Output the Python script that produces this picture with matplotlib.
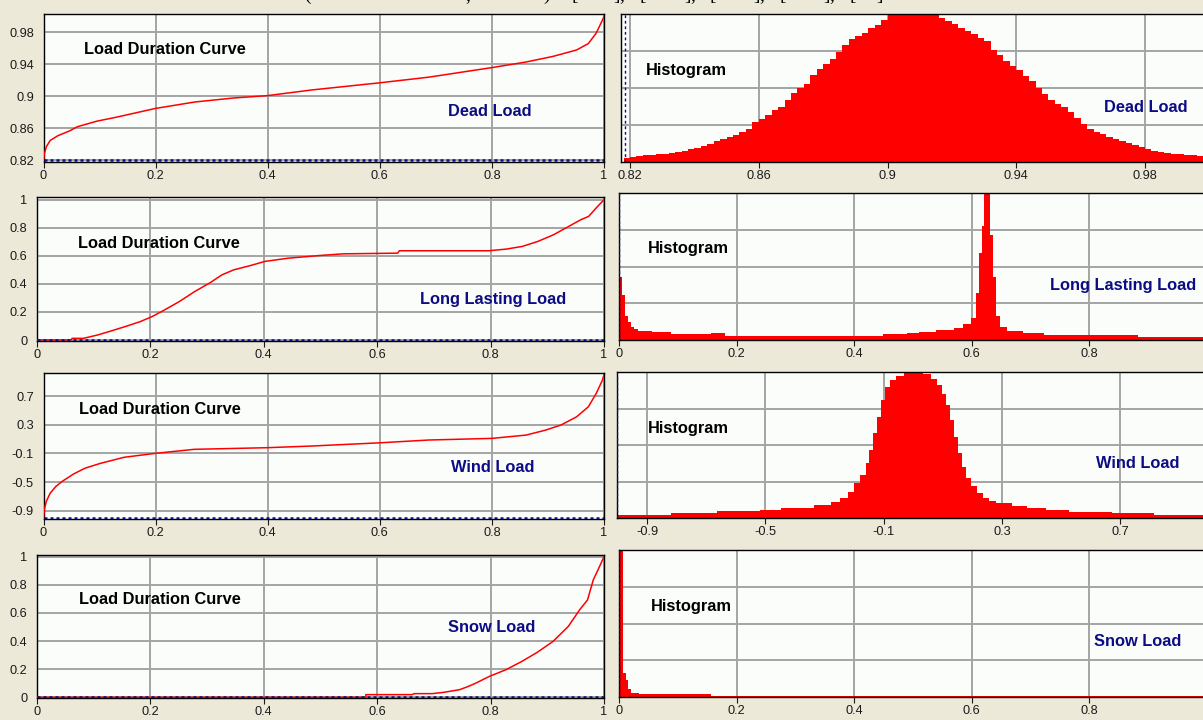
import numpy as np
import matplotlib.pyplot as plt

plt.rcParams['font.family'] = ['Liberation Sans', 'DejaVu Sans']

W, H = 1203, 720

# ---- load duration curves (fraction of time, load) ----
dead_frac = [0, 0.0014, 0.005, 0.012, 0.026, 0.047, 0.06, 0.095, 0.13, 0.2, 0.27, 0.339,
             0.4, 0.478, 0.6, 0.687, 0.8, 0.861, 0.909, 0.951, 0.972, 0.986, 0.997, 1.0]
dead_load = [0.82, 0.828, 0.837, 0.845, 0.851, 0.857, 0.862, 0.869, 0.874, 0.885, 0.893, 0.898,
             0.901, 0.908, 0.917, 0.924, 0.936, 0.943, 0.950, 0.958, 0.966, 0.979, 0.995, 1.0]

long_frac = [0, 0.06, 0.062, 0.082, 0.107, 0.127, 0.155, 0.182, 0.203, 0.223, 0.251, 0.278,
             0.306, 0.326, 0.347, 0.375, 0.402, 0.443, 0.498, 0.54, 0.636, 0.639, 0.797,
             0.828, 0.856, 0.883, 0.911, 0.938, 0.959, 0.973, 0.986, 1.0]
long_load = [0, 0, 0.012, 0.012, 0.036, 0.06, 0.095, 0.131, 0.167, 0.21, 0.274, 0.345,
             0.41, 0.464, 0.5, 0.529, 0.56, 0.583, 0.602, 0.614, 0.619, 0.636, 0.636,
             0.648, 0.667, 0.702, 0.75, 0.81, 0.857, 0.881, 0.94, 1.0]

wind_frac = [0, 0.0014, 0.005, 0.012, 0.022, 0.033, 0.054, 0.074, 0.102, 0.144, 0.2, 0.269,
             0.4, 0.478, 0.6, 0.687, 0.8, 0.861, 0.896, 0.923, 0.951, 0.972, 0.986, 0.997, 1.0]
wind_load = [-1.0, -0.886, -0.77, -0.654, -0.561, -0.492, -0.385, -0.306, -0.237, -0.153,
             -0.098, -0.042, -0.019, 0.004, 0.049, 0.088, 0.111, 0.157, 0.227, 0.297, 0.412,
             0.552, 0.737, 0.922, 1.0]

snow_frac = [0, 0.58, 0.58, 0.662, 0.665, 0.697, 0.717, 0.745, 0.758, 0.772, 0.798, 0.827,
             0.855, 0.882, 0.91, 0.937, 0.957, 0.971, 0.981, 0.992, 1.0]
snow_load = [0, 0, 0.019, 0.019, 0.026, 0.026, 0.035, 0.054, 0.073, 0.097, 0.149, 0.196,
             0.255, 0.319, 0.397, 0.504, 0.622, 0.693, 0.834, 0.929, 1.0]

# ---- histograms (relative frequency, 1 = top of plot) ----
dead_bin_start = 0.818
dead_bin_width = 0.002
dead_hist = [0.03, 0.035, 0.04, 0.045, 0.05, 0.052, 0.055, 0.06, 0.065, 0.072,
             0.085, 0.095, 0.11, 0.125, 0.14, 0.155, 0.17, 0.185, 0.205, 0.225,
             0.27, 0.29, 0.32, 0.35, 0.375, 0.42, 0.465, 0.5, 0.525, 0.585,
             0.63, 0.66, 0.695, 0.74, 0.79, 0.83, 0.85, 0.875, 0.905, 0.925,
             0.96, 1.0, 1.02, 1.04, 1.05, 1.05, 1.04, 1.03, 1.0, 0.975,
             0.955, 0.93, 0.905, 0.885, 0.865, 0.84, 0.815, 0.76, 0.72, 0.685,
             0.65, 0.62, 0.58, 0.545, 0.5, 0.46, 0.42, 0.395, 0.375, 0.34,
             0.3, 0.26, 0.225, 0.2, 0.19, 0.17, 0.155, 0.145, 0.13, 0.115,
             0.1, 0.085, 0.072, 0.065, 0.06, 0.055, 0.052, 0.048, 0.045, 0.04, 0.038]

long_edges = [0, 0.005, 0.01, 0.015, 0.02, 0.026, 0.033, 0.056, 0.088, 0.157, 0.18, 0.45,
              0.49, 0.51, 0.54, 0.57, 0.586, 0.599, 0.607, 0.612, 0.617, 0.622, 0.632,
              0.636, 0.642, 0.648, 0.661, 0.687, 0.723, 0.884, 1.0]
long_hist = [0.43, 0.307, 0.164, 0.125, 0.09, 0.075, 0.064, 0.057, 0.041, 0.045,
             0.03, 0.039, 0.045, 0.052, 0.068, 0.08, 0.11, 0.148, 0.318, 0.59,
             0.773, 1.05, 0.716, 0.43, 0.16, 0.09, 0.064, 0.045, 0.034, 0.023]

wind_edges = [-1.0, -0.818, -0.662, -0.519, -0.447, -0.337, -0.278, -0.246, -0.22, -0.2,
              -0.18, -0.16, -0.148, -0.135, -0.122, -0.109, -0.096, -0.077, -0.057, -0.031,
              -0.005, 0.034, 0.06, 0.08, 0.099, 0.112, 0.125, 0.138, 0.151, 0.164, 0.177,
              0.196, 0.216, 0.235, 0.255, 0.281, 0.333, 0.385, 0.45, 0.528, 0.671, 0.814, 1.0]
wind_hist = [0.018, 0.034, 0.045, 0.057, 0.068, 0.09, 0.107, 0.136, 0.18, 0.24,
             0.295, 0.375, 0.466, 0.58, 0.693, 0.807, 0.898, 0.943, 0.97, 0.99,
             1.02, 0.984, 0.955, 0.909, 0.852, 0.773, 0.67, 0.557, 0.443, 0.352,
             0.273, 0.216, 0.17, 0.136, 0.114, 0.102, 0.084, 0.068, 0.057, 0.039,
             0.034, 0.023]

snow_edges = [0, 0.0065, 0.011, 0.0157, 0.021, 0.034, 0.157, 1.0]
snow_hist = [1.1, 0.164, 0.114, 0.057, 0.03, 0.018, 0.007]

# ---- ticks / labels ----
unit_ticks = [0, 0.2, 0.4, 0.6, 0.8, 1]
unit_labels = ["0", "0.2", "0.4", "0.6", "0.8", "1"]
dead_ticks = [0.82, 0.86, 0.9, 0.94, 0.98]
dead_labels = ["0.82", "0.86", "0.9", "0.94", "0.98"]
wind_ticks = [-0.9, -0.5, -0.1, 0.3, 0.7]
wind_labels = ["-0.9", "-0.5", "-0.1", "0.3", "0.7"]
load_names = ["Dead Load", "Long Lasting Load", "Wind Load", "Snow Load"]

BG = '#ECE9D8'
FACE = '#FBFDFB'
RED = '#FF0000'
NAVY = '#0C0C84'

fig = plt.figure(figsize=(W / 100, H / 100), dpi=100, facecolor=BG)


def px_axes(x0, y0, x1, y1):
    return fig.add_axes([x0 / W, 1 - y1 / H, (x1 - x0) / W, (y1 - y0) / H])


def px_text(x, y, s, **kw):
    fig.text(x / W, 1 - y / H, s, ha='center', va='center', **kw)


def style(ax, xlim, ylim, xt, xl, yt, yl):
    ax.set_facecolor(FACE)
    ax.set_xlim(*xlim)
    ax.set_ylim(*ylim)
    ax.set_xticks(xt, xl)
    ax.set_yticks(yt, yl)
    ax.grid(True, color='#A4A4A4', lw=1.4)
    ax.set_axisbelow(True)
    ax.tick_params(labelsize=9.2, colors='#1A1A1A')
    ax.tick_params(axis='x', length=4, width=0.8, pad=2)
    ax.tick_params(axis='y', length=0, pad=7)
    for sp in ax.spines.values():
        sp.set_color('black')
        sp.set_linewidth(1.0)


# ---- left column: load duration curves ----
ldc_rects = [(43.5, 14, 604, 162), (37, 197, 604, 341), (43.5, 373, 604, 519), (37, 555, 604, 698)]
ldc_data = [(dead_frac, dead_load), (long_frac, long_load), (wind_frac, wind_load), (snow_frac, snow_load)]
ldc_ylims = [(0.818, 1.003), (-0.007, 1.019), (-1.016, 1.025), (-0.005, 1.012)]
ldc_yticks = [(dead_ticks, dead_labels), (unit_ticks, unit_labels), (wind_ticks, wind_labels), (unit_ticks, unit_labels)]
ldc_base = [0.82, 0, -1.0, 0]

for rect, (fx, fy), ylim, (yt, yl), base in zip(ldc_rects, ldc_data, ldc_ylims, ldc_yticks, ldc_base):
    ax = px_axes(*rect)
    style(ax, (0, 1), ylim, unit_ticks, unit_labels, yt, yl)
    ax.plot(fx, fy, color=RED, lw=1.1, zorder=3)
    ax.axhline(base, color=NAVY, lw=1.8, ls=(0, (1.2, 1.2)), zorder=4)

# ---- right column: histograms ----
hist_rects = [(621, 14, W, 162), (618.5, 193, W, 340), (617, 372, W, 518), (618.5, 550, W, 697)]
dead_edges = dead_bin_start + dead_bin_width * np.arange(len(dead_hist) + 1)
hist_data = [(dead_edges, dead_hist), (long_edges, long_hist), (wind_edges, wind_hist), (snow_edges, snow_hist)]
hist_xlims = [(0.8172, 0.998), (-0.001, 0.994), (-1.0015, 0.98), (-0.001, 0.994)]
hist_xticks = [(dead_ticks, dead_labels), (unit_ticks[:-1], unit_labels[:-1]),
               (wind_ticks, wind_labels), (unit_ticks[:-1], unit_labels[:-1])]
hist_base = [0.8185, 0, -1.0, 0]

for rect, (edges, counts), xlim, (xt, xl), base in zip(hist_rects, hist_data, hist_xlims, hist_xticks, hist_base):
    ax = px_axes(*rect)
    style(ax, xlim, (0, 1), xt, xl, [0.25, 0.5, 0.75], [])
    ax.spines['right'].set_visible(False)
    ax.stairs(counts, edges, fill=True, color=RED, lw=0, zorder=2)
    ax.axvline(base, color=NAVY, lw=1.0, ls=(0, (2, 2)), zorder=4)

# ---- panel captions ----
cap = dict(fontsize=11.8, fontweight='bold', color='black')
name = dict(fontsize=11.8, fontweight='bold', color=NAVY)
ldc_cap_pos = [(165, 50), (158.5, 244), (159.5, 410), (159.5, 599)]
ldc_name_pos = [(489.5, 111), (493, 299), (493, 467), (491.5, 628)]
hist_cap_pos = [(686.5, 70), (688.5, 249), (688.5, 429), (691.5, 606)]
hist_name_pos = [(1145.5, 107), (1123, 286), (1138, 464), (1138, 642)]
for i, nm in enumerate(load_names):
    px_text(*ldc_cap_pos[i], "Load Duration Curve", **cap)
    px_text(*ldc_name_pos[i], nm, **name)
    px_text(*hist_cap_pos[i], "Histogram", **cap)
    px_text(*hist_name_pos[i], nm, **name)

# ---- caption above the figure, cut off by the crop ----
glyph_x = [307, 468, 547, 575, 617, 622, 643, 688, 693, 713, 757, 762, 783, 827, 832, 853, 880]
glyphs = "(,)[],[],[],[],[]"
for gx, g in zip(glyph_x, glyphs):
    fig.text(gx / W, 1, g, ha='center', va='baseline', fontsize=14,
             family='Liberation Serif', color='black')

fig.savefig("out.png", dpi=100, facecolor=BG)
